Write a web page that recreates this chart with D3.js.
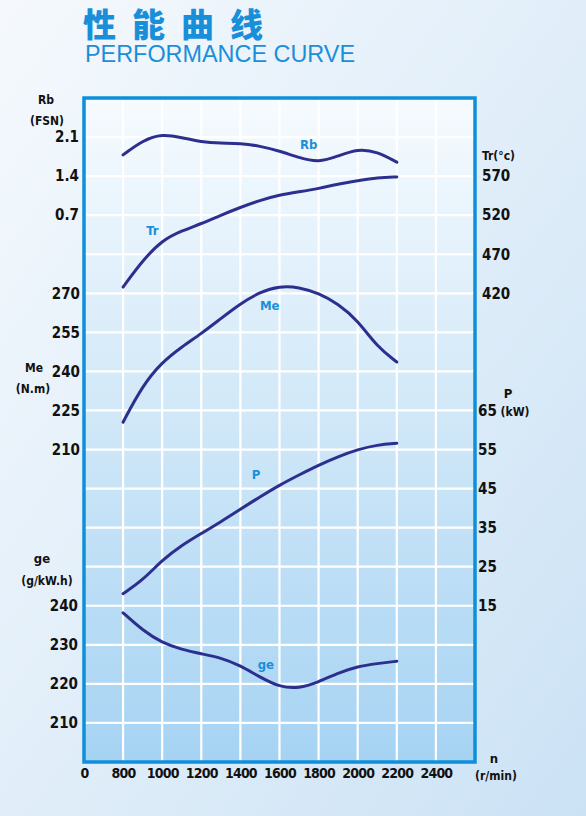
<!DOCTYPE html>
<html><head><meta charset="utf-8">
<script src="https://cdn.jsdelivr.net/npm/d3@7"></script>
<style>
html,body{margin:0;padding:0;}
body{width:586px;height:816px;overflow:hidden;}
.tick text,.lab{font-family:"DejaVu Sans Condensed","DejaVu Sans",sans-serif;font-weight:bold;fill:#111;}
</style></head>
<body><svg id="c" width="586" height="816"></svg>
<script>
// ---- data ----
const rpm      = [800,900,1000,1100,1200,1300,1400,1500,1600,1700,1800,1900,2000,2100,2200];
const rbVals   = [1.78,2.04,2.16,2.09,2.01,1.99,1.99,1.94,1.85,1.73,1.64,1.76,1.89,1.84,1.65];
const trVals   = [428,462,488,500,509,520,530,539,546,550,554,560,564,568,569];
const meVals   = [220.5,234.6,243.6,249.4,254.5,260.3,266,270.5,272.8,272.4,270,266,259.6,249.4,243.6];
const pVals    = [18.1,21.5,26.7,30.5,33.5,36.5,39.7,42.9,45.9,48.5,51,53.2,55,56.2,56.6];
const geVals   = [238.2,233.7,230.5,228.8,227.7,226.7,224.7,221.7,219.2,218.8,220.5,222.8,224.5,225.2,225.8];
const xTicks   = [0,800,1000,1200,1400,1600,1800,2000,2200,2400];
const rbTicks  = [0.7,1.4,2.1];
const trTicks  = [420,470,520,570];
const meTicks  = [210,225,240,255,270];
const pTicks   = [15,25,35,45,55,65];
const geTicks  = [210,220,230,240];

const svg = d3.select("#c");
const W=586,H=816;
const L=84,R=475,T=98,B=762;
const cell=(B-T)/17;

// defs / gradients
const defs=svg.append("defs");
const bg=defs.append("linearGradient").attr("id","bg").attr("x1","0").attr("y1","0").attr("x2","1").attr("y2","1");
bg.append("stop").attr("offset","0").attr("stop-color","#f5f9fd");
bg.append("stop").attr("offset","0.5").attr("stop-color","#e1eef9");
bg.append("stop").attr("offset","1").attr("stop-color","#cbe2f5");
const pg=defs.append("linearGradient").attr("id","pg").attr("x1","0").attr("y1","0").attr("x2","0").attr("y2","1");
pg.append("stop").attr("offset","0").attr("stop-color","#f6fbff");
pg.append("stop").attr("offset","0.45").attr("stop-color","#d3e9f8");
pg.append("stop").attr("offset","1").attr("stop-color","#a6d3f3");

svg.append("rect").attr("width",W).attr("height",H).attr("fill","url(#bg)");

// title
svg.append("text").attr("x",83).attr("y",37).text("性能曲线")
  .attr("font-family","'Noto Sans CJK SC',sans-serif").attr("font-weight","900")
  .attr("font-size",33).attr("letter-spacing",16).attr("fill","#1a8fd9");
svg.append("text").attr("x",85).attr("y",62).text("PERFORMANCE CURVE")
  .attr("font-family","'Liberation Sans',Arial,sans-serif").attr("font-size",23)
  .attr("textLength",270).attr("lengthAdjust","spacingAndGlyphs").attr("fill","#1a8fd9");

// scales
const x = d3.scaleLinear().domain([0,800,2600]).range([L,L+cell,R]);
const row = d3.scaleLinear().domain([0,17]).range([B,T]);
const yRb = d3.scaleLinear().domain([0,2.1]).range([row(13),row(16)]);
const yTr = d3.scaleLinear().domain([420,570]).range([row(12),row(15)]);
const yMe = d3.scaleLinear().domain([210,270]).range([row(8),row(12)]);
const yP  = d3.scaleLinear().domain([15,65]).range([row(4),row(9)]);
const yGe = d3.scaleLinear().domain([210,240]).range([row(1),row(4)]);

// plot bg
svg.append("rect").attr("x",L).attr("y",T).attr("width",R-L).attr("height",B-T).attr("fill","url(#pg)");

// grid
const g=svg.append("g").attr("stroke","#ffffff").attr("stroke-width",2.2);
g.selectAll(".v").data(d3.range(800,2600,200)).join("line")
  .attr("x1",d=>x(d)).attr("x2",d=>x(d)).attr("y1",T).attr("y2",B);
g.selectAll(".h").data(d3.range(1,17)).join("line")
  .attr("x1",L).attr("x2",R).attr("y1",d=>row(d)).attr("y2",d=>row(d));

// frame
svg.append("rect").attr("x",L).attr("y",T).attr("width",R-L).attr("height",B-T)
  .attr("fill","none").attr("stroke","#0e8fd9").attr("stroke-width",3.5);

// curves
const series=[
  {v:rbVals,y:yRb},{v:trVals,y:yTr},{v:meVals,y:yMe},{v:pVals,y:yP},{v:geVals,y:yGe}
];
series.forEach(s=>{
  const line=d3.line().x((d,i)=>x(rpm[i])).y(d=>s.y(d)).curve(d3.curveBasis);
  svg.append("path").attr("d",line(s.v)).attr("fill","none")
    .attr("stroke","#2d2f8e").attr("stroke-width",3).attr("stroke-linecap","round");
});

// curve labels
const cl=[["Rb",1750,1.97,yRb],["Tr",950,500,yTr],["Me",1550,265.5,yMe],["P",1480,48.5,yP],["ge",1530,225,yGe]];
cl.forEach(c=>{
  svg.append("text").attr("x",x(c[1])).attr("y",c[3](c[2])).text(c[0])
    .attr("text-anchor","middle").attr("dy","0.35em")
    .attr("font-family","'DejaVu Sans Condensed','DejaVu Sans',sans-serif").attr("font-weight","bold")
    .attr("font-size",13).attr("fill","#1a8fd9");
});

// axes
function axis(gen,tx,fmt,ticks,fs){
  const a=svg.append("g").attr("transform",tx).call(gen.tickValues(ticks).tickSize(0).tickFormat(fmt));
  a.select(".domain").remove();
  a.selectAll("text").attr("font-size",fs).attr("fill","#111");
  return a;
}
axis(d3.axisLeft(yRb).tickPadding(0),`translate(${L-5},0)`,d3.format(".1f"),rbTicks,15);
axis(d3.axisLeft(yMe).tickPadding(0),`translate(${L-4},0)`,d3.format("d"),meTicks,15);
axis(d3.axisLeft(yGe).tickPadding(0),`translate(${L-6},0)`,d3.format("d"),geTicks,15);
axis(d3.axisRight(yTr).tickPadding(0),`translate(${R+7},0)`,d3.format("d"),trTicks,15);
axis(d3.axisRight(yP).tickPadding(0),`translate(${R+3},0)`,d3.format("d"),pTicks,15);
axis(d3.axisBottom(x).tickPadding(6),`translate(0,${B})`,d3.format("d"),xTicks,14)
  .selectAll("text").attr("letter-spacing",-0.8);

// axis titles
const lab=(t,xx,yy,fs,anchor)=>svg.append("text").attr("class","lab").attr("x",xx).attr("y",yy)
  .attr("font-size",fs).attr("text-anchor",anchor||"middle").text(t);
lab("Rb",46,104,12);
lab("(FSN)",47,125,12);
lab("Me",34,372,12);
lab("(N.m)",33,393,12);
lab("ge",42,563,13);
lab("(g/kW.h)",47,585,12);
lab("Tr(°c)",482,160,12,"start");
lab("P",508,398,13);
lab("(kW)",515,416,12);
lab("n",494,763,13);
lab("(r/min)",496,780,12);
</script></body></html>
